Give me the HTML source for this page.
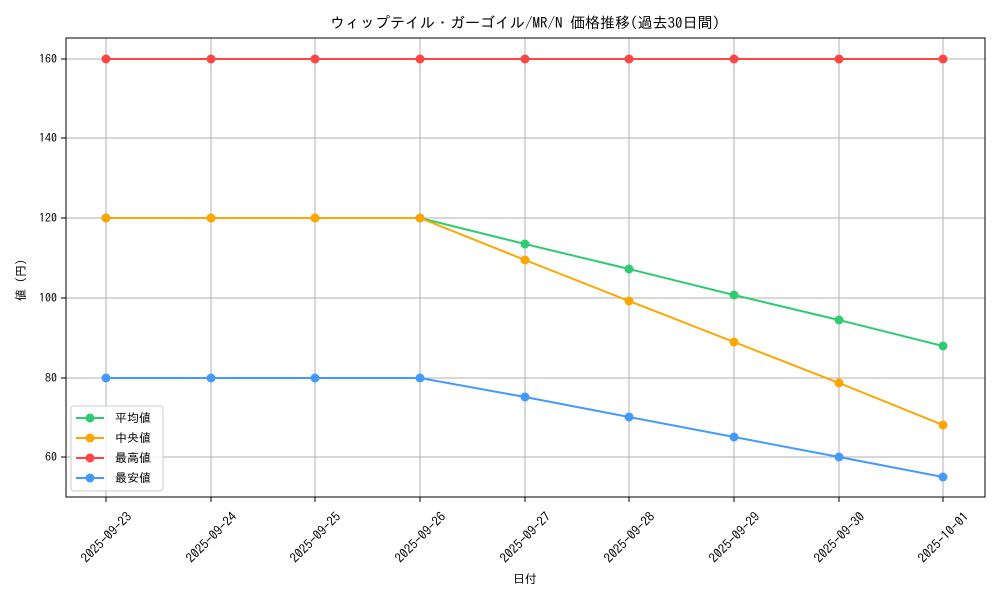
<!DOCTYPE html>
<html><head><meta charset="utf-8"><style>
body{margin:0;background:#fff}
svg text{font-family:"IPAGothic","Noto Sans CJK JP",monospace;fill:#000}
</style></head><body>
<svg width="1000" height="600" xmlns="http://www.w3.org/2000/svg">
<rect width="1000" height="600" fill="#fff"/>
<text x="525" y="28" font-size="15" text-anchor="middle">ウィップテイル・ガーゴイル/MR/N 価格推移(過去30日間)</text>
<g stroke="#b0b0b0" stroke-width="1">
<line x1="106" y1="38" x2="106" y2="497"/><line x1="211" y1="38" x2="211" y2="497"/><line x1="315" y1="38" x2="315" y2="497"/><line x1="420" y1="38" x2="420" y2="497"/><line x1="525" y1="38" x2="525" y2="497"/><line x1="629" y1="38" x2="629" y2="497"/><line x1="734" y1="38" x2="734" y2="497"/><line x1="839" y1="38" x2="839" y2="497"/><line x1="943" y1="38" x2="943" y2="497"/>
<line x1="66" y1="457" x2="985" y2="457"/><line x1="66" y1="378" x2="985" y2="378"/><line x1="66" y1="298" x2="985" y2="298"/><line x1="66" y1="218" x2="985" y2="218"/><line x1="66" y1="138" x2="985" y2="138"/><line x1="66" y1="59" x2="985" y2="59"/>
</g>
<rect x="66" y="38" width="919" height="459" fill="none" stroke="#000" stroke-width="1"/>
<g stroke="#000"><line x1="61" y1="457" x2="66" y2="457"/><line x1="61" y1="378" x2="66" y2="378"/><line x1="61" y1="298" x2="66" y2="298"/><line x1="61" y1="218" x2="66" y2="218"/><line x1="61" y1="138" x2="66" y2="138"/><line x1="61" y1="59" x2="66" y2="59"/>
<line x1="106" y1="497" x2="106" y2="502"/><line x1="211" y1="497" x2="211" y2="502"/><line x1="315" y1="497" x2="315" y2="502"/><line x1="420" y1="497" x2="420" y2="502"/><line x1="525" y1="497" x2="525" y2="502"/><line x1="629" y1="497" x2="629" y2="502"/><line x1="734" y1="497" x2="734" y2="502"/><line x1="839" y1="497" x2="839" y2="502"/><line x1="943" y1="497" x2="943" y2="502"/></g>
<g font-size="12" text-anchor="end">
<text x="57" y="461">60</text><text x="57" y="382">80</text><text x="57" y="302">100</text><text x="57" y="222">120</text><text x="57" y="142">140</text><text x="57" y="63">160</text></g>
<g font-size="13" text-anchor="middle">
<text transform="translate(106,537) rotate(-45)" dy="5">2025-09-23</text>
<text transform="translate(211,537) rotate(-45)" dy="5">2025-09-24</text>
<text transform="translate(315,537) rotate(-45)" dy="5">2025-09-25</text>
<text transform="translate(420,537) rotate(-45)" dy="5">2025-09-26</text>
<text transform="translate(525,537) rotate(-45)" dy="5">2025-09-27</text>
<text transform="translate(629,537) rotate(-45)" dy="5">2025-09-28</text>
<text transform="translate(734,537) rotate(-45)" dy="5">2025-09-29</text>
<text transform="translate(839,537) rotate(-45)" dy="5">2025-09-30</text>
<text transform="translate(943,537) rotate(-45)" dy="5">2025-10-01</text>
</g>
<text x="525" y="583" font-size="12" text-anchor="middle">日付</text>
<text transform="translate(25,280) rotate(-90)" font-size="12" text-anchor="middle">値 (円)</text>
<g fill="none" stroke-width="2">
<polyline stroke="#2ecc71" points="106,218 211,218 315,218 420,218 525,244 629,269 734,295 839,320 943,346"/>
<polyline stroke="#ffa500" points="106,218 211,218 315,218 420,218 525,260 629,301 734,342 839,383 943,425"/>
<polyline stroke="#ff4444" points="106,59 211,59 315,59 420,59 525,59 629,59 734,59 839,59 943,59"/>
<polyline stroke="#4499ff" points="106,378 211,378 315,378 420,378 525,397 629,417 734,437 839,457 943,477"/>
</g>
<g fill="#2ecc71"><circle cx="106" cy="218" r="4.5"/><circle cx="211" cy="218" r="4.5"/><circle cx="315" cy="218" r="4.5"/><circle cx="420" cy="218" r="4.5"/><circle cx="525" cy="244" r="4.5"/><circle cx="629" cy="269" r="4.5"/><circle cx="734" cy="295" r="4.5"/><circle cx="839" cy="320" r="4.5"/><circle cx="943" cy="346" r="4.5"/></g>
<g fill="#ffa500"><circle cx="106" cy="218" r="4.5"/><circle cx="211" cy="218" r="4.5"/><circle cx="315" cy="218" r="4.5"/><circle cx="420" cy="218" r="4.5"/><circle cx="525" cy="260" r="4.5"/><circle cx="629" cy="301" r="4.5"/><circle cx="734" cy="342" r="4.5"/><circle cx="839" cy="383" r="4.5"/><circle cx="943" cy="425" r="4.5"/></g>
<g fill="#ff4444"><circle cx="106" cy="59" r="4.5"/><circle cx="211" cy="59" r="4.5"/><circle cx="315" cy="59" r="4.5"/><circle cx="420" cy="59" r="4.5"/><circle cx="525" cy="59" r="4.5"/><circle cx="629" cy="59" r="4.5"/><circle cx="734" cy="59" r="4.5"/><circle cx="839" cy="59" r="4.5"/><circle cx="943" cy="59" r="4.5"/></g>
<g fill="#4499ff"><circle cx="106" cy="378" r="4.5"/><circle cx="211" cy="378" r="4.5"/><circle cx="315" cy="378" r="4.5"/><circle cx="420" cy="378" r="4.5"/><circle cx="525" cy="397" r="4.5"/><circle cx="629" cy="417" r="4.5"/><circle cx="734" cy="437" r="4.5"/><circle cx="839" cy="457" r="4.5"/><circle cx="943" cy="477" r="4.5"/></g>
<rect x="71" y="406" width="92" height="85" rx="3" fill="#fff" fill-opacity="0.8" stroke="#ccc"/>
<g stroke-width="2">
<line x1="76" y1="418" x2="104" y2="418" stroke="#2ecc71"/><circle cx="90" cy="418" r="4.5" fill="#2ecc71"/>
<line x1="76" y1="438" x2="104" y2="438" stroke="#ffa500"/><circle cx="90" cy="438" r="4.5" fill="#ffa500"/>
<line x1="76" y1="458" x2="104" y2="458" stroke="#ff4444"/><circle cx="90" cy="458" r="4.5" fill="#ff4444"/>
<line x1="76" y1="478" x2="104" y2="478" stroke="#4499ff"/><circle cx="90" cy="478" r="4.5" fill="#4499ff"/>
</g>
<g font-size="12"><text x="115" y="422">平均値</text><text x="115" y="442">中央値</text><text x="115" y="462">最高値</text><text x="115" y="482">最安値</text></g>
</svg>
</body></html>
